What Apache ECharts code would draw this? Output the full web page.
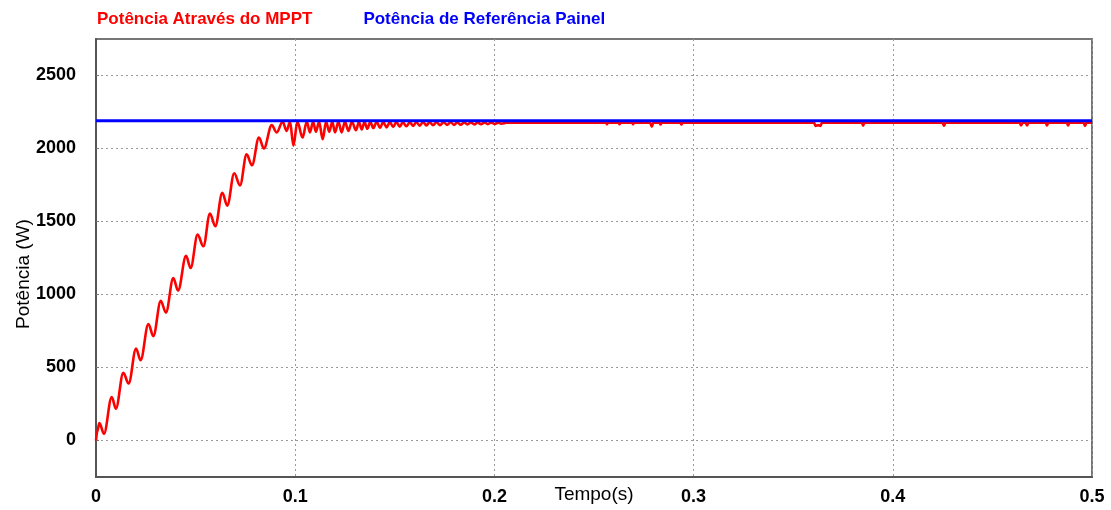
<!DOCTYPE html>
<html>
<head>
<meta charset="utf-8">
<title>Potência MPPT</title>
<script src="https://cdn.jsdelivr.net/npm/echarts@6/dist/echarts.min.js"></script>
<style>
  html, body { margin: 0; padding: 0; background: #ffffff; }
  #chart { width: 1111px; height: 510px; }
</style>
</head>
<body>
<div id="chart"></div>
<script>
// Tick positions for both axes
const timeTicks = [0, 0.1, 0.2, 0.3, 0.4, 0.5];
const powerTicks = [0, 500, 1000, 1500, 2000, 2500];

// Series names
const seriesNames = ['Potência Através do MPPT', 'Potência de Referência Painel'];

// Power tracked by the MPPT: time (s) and power (W)
const mpptTime = [
  0.0000, 0.0006, 0.0017, 0.0040, 0.0079, 0.0100, 0.0137, 0.0164, 0.0201, 0.0224,
  0.0263, 0.0288, 0.0325, 0.0351, 0.0388, 0.0412, 0.0452, 0.0475, 0.0510, 0.0539,
  0.0572, 0.0599, 0.0634, 0.0659, 0.0694, 0.0723, 0.0756, 0.0783, 0.0818, 0.0843,
  0.0882, 0.0907, 0.0937, 0.0957, 0.0974, 0.0991, 0.1011, 0.1037, 0.1058, 0.1074,
  0.1090, 0.1104, 0.1120, 0.1138, 0.1155, 0.1171, 0.1186, 0.1200, 0.1217, 0.1233,
  0.1250, 0.1267, 0.1285, 0.1305, 0.1320, 0.1334, 0.1348, 0.1362, 0.1377, 0.1392,
  0.1409, 0.1426, 0.1442, 0.1459, 0.1475, 0.1492, 0.1508, 0.1525, 0.1541, 0.1558,
  0.1575, 0.1592, 0.1608, 0.1625, 0.1642, 0.1659, 0.1675, 0.1692, 0.1710, 0.1727,
  0.1745, 0.1762, 0.1780, 0.1797, 0.1814, 0.1831, 0.1848, 0.1865, 0.1882, 0.1899,
  0.1916, 0.1933, 0.1950, 0.1967, 0.1984, 0.2001, 0.2018, 0.2035, 0.2060, 0.2560,
  0.2565, 0.2570, 0.2623, 0.2628, 0.2633, 0.2691, 0.2696, 0.2701, 0.2782, 0.2790,
  0.2798, 0.2829, 0.2834, 0.2839, 0.2934, 0.2939, 0.2944, 0.3605, 0.3612, 0.3625,
  0.3637, 0.3644, 0.3845, 0.3851, 0.3857, 0.4250, 0.4257, 0.4264, 0.4637, 0.4644,
  0.4652, 0.4667, 0.4674, 0.4681, 0.4768, 0.4774, 0.4780, 0.4874, 0.4880, 0.4886,
  0.4958, 0.4965, 0.4972, 0.5000
];
const mpptPower = [
  0, 60, 120, 46, 298, 218, 463, 390, 630, 550,
  798, 715, 956, 876, 1112, 1027, 1265, 1181, 1410, 1330,
  1554, 1467, 1697, 1609, 1830, 1747, 1960, 1885, 2075, 2000,
  2160, 2110, 2183, 2121, 2183, 2020, 2183, 2075, 2183, 2110,
  2183, 2115, 2183, 2063, 2183, 2115, 2183, 2110, 2183, 2110,
  2183, 2121, 2183, 2125, 2182, 2130, 2182, 2135, 2182, 2140,
  2182, 2142, 2181, 2145, 2181, 2148, 2181, 2150, 2180, 2152,
  2180, 2155, 2180, 2157, 2180, 2158, 2180, 2160, 2180, 2160,
  2180, 2162, 2180, 2162, 2179, 2163, 2179, 2165, 2179, 2165,
  2178, 2166, 2178, 2167, 2178, 2168, 2177, 2170, 2176, 2176,
  2166, 2176, 2176, 2166, 2176, 2176, 2166, 2176, 2176, 2150,
  2176, 2176, 2164, 2176, 2176, 2164, 2176, 2176, 2155, 2160,
  2155, 2176, 2176, 2157, 2176, 2176, 2156, 2176, 2176, 2158,
  2176, 2176, 2158, 2176, 2176, 2158, 2176, 2176, 2158, 2176,
  2176, 2155, 2176, 2176
];

// Reference power of the panel (W)
const refTime = [0, 0.5];
const refPower = [2190, 2190];

const zip = (xs, ys) => xs.map((x, i) => [x, ys[i]]);

const chart = echarts.init(document.getElementById('chart'), null, { renderer: 'canvas' });

const boldLabel = {
  fontFamily: 'Liberation Sans, Arial, sans-serif',
  fontWeight: 'bold',
  fontSize: 18,
  color: '#000'
};

chart.setOption({
  animation: false,
  backgroundColor: '#ffffff',
  legend: {
    left: 87,
    top: 6,
    itemWidth: 0,
    itemHeight: 0,
    itemGap: 46,
    icon: 'rect',
    data: [
      { name: seriesNames[0], textStyle: { color: '#ff0000' } },
      { name: seriesNames[1], textStyle: { color: '#0000ff' } }
    ],
    textStyle: {
      fontFamily: 'Liberation Sans, Arial, sans-serif',
      fontWeight: 'bold',
      fontSize: 17
    }
  },
  grid: {
    left: 96,
    right: 19,
    top: 39,
    bottom: 33,
    show: true,
    borderColor: '#777',
    borderWidth: 2,
    containLabel: false,
    outerBoundsMode: 'none'
  },
  xAxis: {
    type: 'value',
    min: 0,
    max: 0.5,
    interval: 0.1,
    name: 'Tempo(s)',
    nameLocation: 'middle',
    nameGap: 8,
    nameMoveOverlap: false,
    nameTextStyle: {
      fontFamily: 'Liberation Sans, Arial, sans-serif',
      fontSize: 19,
      color: '#000'
    },
    axisLine: { show: true, onZero: false, lineStyle: { color: '#555', width: 2 } },
    axisTick: { show: false },
    axisLabel: Object.assign({
      margin: 11,
      customValues: timeTicks,
      formatter: v => (v === 0 ? '0' : v.toFixed(1))
    }, boldLabel),
    splitLine: {
      show: true,
      lineStyle: { color: '#9a9a9a', width: 1, type: [2, 3] }
    }
  },
  yAxis: {
    type: 'value',
    min: -250,
    max: 2750,
    name: 'Potência (W)',
    nameLocation: 'middle',
    nameGap: 63,
    nameMoveOverlap: false,
    nameTextStyle: {
      fontFamily: 'Liberation Sans, Arial, sans-serif',
      fontSize: 19,
      color: '#000',
      padding: [0, 32, 0, 0]
    },
    axisLine: { show: true, onZero: false, lineStyle: { color: '#555', width: 2 } },
    axisTick: { show: true, inside: true, length: 3, customValues: powerTicks, lineStyle: { color: '#777' } },
    axisLabel: Object.assign({
      margin: 20,
      customValues: powerTicks,
      formatter: v => String(v)
    }, boldLabel),
    splitLine: {
      show: true,
      lineStyle: { color: '#9a9a9a', width: 1, type: [2, 3] }
    }
  },
  series: [
    {
      name: seriesNames[0],
      type: 'line',
      data: zip(mpptTime, mpptPower),
      showSymbol: false,
      smooth: 0.35,
      smoothMonotone: 'x',
      lineStyle: { color: '#ff0000', width: 2.6 },
      itemStyle: { color: '#ff0000' },
      z: 2
    },
    {
      name: seriesNames[1],
      type: 'line',
      data: zip(refTime, refPower),
      showSymbol: false,
      lineStyle: { color: '#0000ff', width: 3 },
      itemStyle: { color: '#0000ff' },
      z: 3
    }
  ]
});
</script>
</body>
</html>
